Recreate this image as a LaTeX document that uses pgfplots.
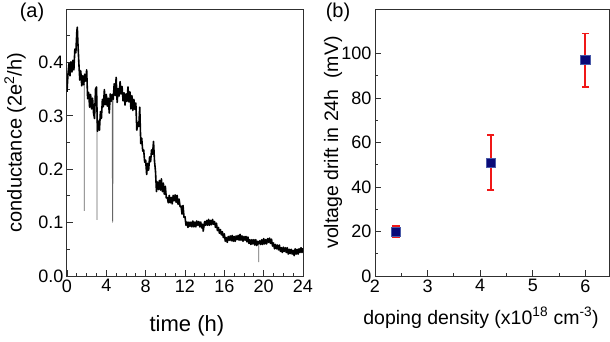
\documentclass[border=0pt]{standalone}
\usepackage{fontspec}
\setmainfont{Liberation Sans}
\usepackage{pgfplots}
\usepackage{pgfplotstable}
\pgfplotsset{compat=1.18}
\definecolor{navy}{HTML}{0A0A78}
\definecolor{navyedge}{HTML}{4A5AA8}
\definecolor{axgray}{HTML}{303030}
\definecolor{errred}{HTML}{F01818}
\pgfplotstableread{
t v
0.0 0.345
0.1 0.378
0.2 0.398
0.3 0.375
0.4 0.401
0.5 0.382
0.6 0.404
0.7 0.386
0.8 0.425
0.9 0.418
1.0 0.458
1.05 0.466
1.1 0.440
1.2 0.401
1.3 0.367
1.4 0.384
1.5 0.356
1.6 0.375
1.7 0.358
1.8 0.378
1.9 0.365
2.0 0.386
2.1 0.332
2.2 0.344
2.3 0.316
2.4 0.340
2.5 0.313
2.6 0.333
2.7 0.305
2.8 0.295
2.9 0.350
3.0 0.354
3.1 0.271
3.2 0.290
3.3 0.273
3.4 0.308
3.5 0.295
3.6 0.331
3.7 0.317
3.8 0.349
3.9 0.321
4.0 0.340
4.1 0.318
4.2 0.333
4.3 0.305
4.4 0.341
4.5 0.327
4.6 0.340
4.7 0.331
4.8 0.360
4.9 0.338
5.0 0.372
5.1 0.325
5.2 0.351
5.3 0.337
5.4 0.364
5.5 0.341
5.6 0.355
5.7 0.328
5.8 0.343
5.9 0.320
6.0 0.341
6.1 0.327
6.2 0.354
6.3 0.326
6.4 0.345
6.5 0.313
6.6 0.338
6.7 0.310
6.8 0.331
6.9 0.312
7.0 0.324
7.1 0.273
7.2 0.287
7.3 0.280
7.4 0.316
7.5 0.248
7.6 0.258
7.7 0.234
7.8 0.236
7.9 0.213
8.0 0.217
8.1 0.190
8.2 0.211
8.3 0.198
8.4 0.223
8.5 0.214
8.6 0.236
8.7 0.228
8.8 0.252
8.9 0.215
9.0 0.196
9.1 0.158
9.2 0.176
9.3 0.162
9.4 0.179
9.5 0.161
9.6 0.182
9.7 0.158
9.8 0.174
9.9 0.153
10.0 0.168
10.1 0.146
10.2 0.147
10.3 0.137
10.4 0.151
10.5 0.137
10.6 0.147
10.7 0.135
10.8 0.151
10.9 0.141
11.0 0.152
11.1 0.138
11.2 0.151
11.3 0.134
11.4 0.144
11.5 0.130
11.6 0.131
11.7 0.116
11.8 0.132
11.9 0.110
12.0 0.111
12.1 0.095
12.2 0.101
12.3 0.091
12.4 0.101
12.5 0.093
12.6 0.101
12.7 0.092
12.8 0.103
12.9 0.092
13.0 0.101
13.1 0.092
13.2 0.103
13.3 0.095
13.4 0.102
13.5 0.092
13.6 0.101
13.7 0.090
13.8 0.097
13.85 0.084
13.9 0.090
14.0 0.102
14.1 0.095
14.2 0.104
14.3 0.095
14.4 0.106
14.5 0.095
14.6 0.104
14.7 0.096
14.8 0.106
14.9 0.097
15.0 0.102
15.1 0.091
15.2 0.099
15.3 0.085
15.4 0.091
15.5 0.080
15.6 0.087
15.7 0.077
15.8 0.083
15.9 0.072
16.0 0.079
16.1 0.065
16.2 0.072
16.3 0.063
16.4 0.074
16.5 0.067
16.6 0.075
16.7 0.066
16.8 0.076
16.9 0.065
17.0 0.074
17.1 0.065
17.2 0.075
17.3 0.068
17.4 0.076
17.5 0.067
17.6 0.078
17.7 0.067
17.8 0.075
17.9 0.065
18.0 0.074
18.1 0.067
18.2 0.074
18.3 0.064
18.4 0.073
18.5 0.061
18.6 0.068
18.7 0.059
18.8 0.068
18.9 0.060
19.0 0.068
19.1 0.058
19.2 0.068
19.3 0.057
19.4 0.065
19.5 0.060
19.6 0.066
19.7 0.059
19.8 0.068
19.9 0.059
20.0 0.070
20.1 0.060
20.2 0.068
20.3 0.060
20.4 0.070
20.5 0.063
20.6 0.071
20.7 0.061
20.8 0.069
20.9 0.056
21.0 0.062
21.1 0.051
21.2 0.059
21.3 0.051
21.4 0.058
21.5 0.049
21.6 0.058
21.7 0.046
21.8 0.053
21.9 0.044
22.0 0.054
22.1 0.046
22.2 0.053
22.3 0.044
22.4 0.053
22.5 0.041
22.6 0.050
22.7 0.042
22.8 0.050
22.9 0.041
23.0 0.048
23.1 0.038
23.2 0.051
23.3 0.041
23.4 0.050
23.5 0.041
23.6 0.051
23.7 0.044
23.8 0.053
23.9 0.044
24.0 0.052
}\conductance
\pgfplotsset{
  myaxis/.style={
    scale only axis,
    axis line style={axgray, line width=1pt},
    tick style={axgray, line width=0.9pt},
    tick align=inside, xtick pos=bottom, ytick pos=left,
    major tick length=6pt, minor tick length=3pt,
    ticklabel style={font=\fontsize{18}{18}\selectfont},
    /pgf/number format/assume math mode=true,
  },
  errbar/.style={errred, line width=1.7pt, mark=-, mark size=3.8pt,
    mark options={solid, draw=errred, line width=1.7pt}},
}
\begin{document}
\begin{tikzpicture}
\path[use as bounding box] (0,0) rectangle (610pt,341pt);
\begin{axis}[myaxis,
  at={(67pt,65pt)}, anchor=south west,
  width=236pt, height=267pt,
  xmin=0, xmax=24, ymin=0, ymax=0.5,
  xtick={0,4,...,24}, minor x tick num=3,
  ytick={0,0.1,0.2,0.3,0.4},
  minor ytick={0.05,0.15,0.25,0.35,0.45},
  yticklabel style={/pgf/number format/.cd, fixed, fixed zerofill, precision=1},
  xlabel={time (h)},
  ylabel={conductance (2e\textsuperscript{2}/h)},
  xlabel style={font=\fontsize{22}{22}\selectfont, at={(axis description cs:0.508,-0.187)}, anchor=center},
  ylabel style={font=\fontsize{20}{20}\selectfont, at={(axis description cs:-0.22,0.5)}, anchor=center},
]
% spikes (thin grey)
\addplot[gray!80!black, line width=0.6pt] coordinates {(1.74,0.360) (1.75,0.122) (1.76,0.360)};
\addplot[gray!80!black, line width=0.6pt] coordinates {(3.04,0.340) (3.05,0.105) (3.07,0.290)};
\addplot[gray!80!black, line width=0.6pt] coordinates {(4.60,0.335) (4.61,0.112) (4.64,0.100) (4.67,0.108) (4.68,0.330)};
\addplot[gray!80!black, line width=0.6pt] coordinates {(19.49,0.060) (19.50,0.026) (19.51,0.060)};
\addplot[black, line width=1.6pt, line join=round] table[x=t, y=v] {\conductance};
\end{axis}
\node[font=\fontsize{20}{20}\selectfont] at (32pt,329pt) {(a)};
\begin{axis}[myaxis,
  at={(375pt,65pt)}, anchor=south west,
  width=234pt, height=267pt,
  xmin=2, xmax=6.45, ymin=0, ymax=120,
  xtick={2,3,4,5,6}, minor x tick num=1,
  ytick={0,20,40,60,80,100}, minor y tick num=1,
  xlabel={doping density (x10\textsuperscript{18} cm\textsuperscript{-3})},
  ylabel={voltage drift in 24h~~(mV)},
  xlabel style={font=\fontsize{19.5}{19.5}\selectfont, at={(axis description cs:0.453,-0.157)}, anchor=center},
  ylabel style={font=\fontsize{19.5}{19.5}\selectfont, at={(axis description cs:-0.179,0.5)}, anchor=center},
]
% error bars: value - err, value + err
\addplot[errbar] coordinates {(2.4,17.5) (2.4,22.5)};
\addplot[errbar] coordinates {(4.2,38.5) (4.2,63.5)};
\addplot[errbar] coordinates {(6.0,85) (6.0,109)};
% markers on top
\addplot[only marks, mark=square*, mark size=4.6pt,
  mark options={fill=navy, draw=navyedge, line width=0.6pt}]
  coordinates {(2.4,20) (4.2,51) (6.0,97)};
\end{axis}
\node[font=\fontsize{20}{20}\selectfont] at (338pt,329pt) {(b)};
\end{tikzpicture}
\end{document}
